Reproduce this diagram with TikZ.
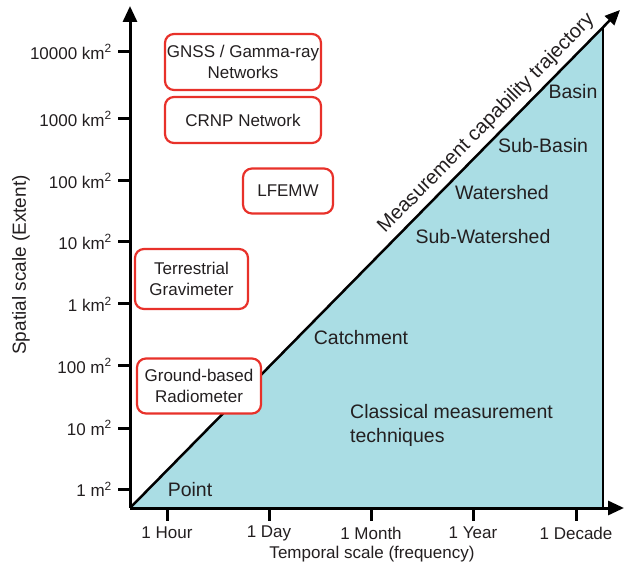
\documentclass[tikz,border=0pt]{standalone}
\usepackage{fontspec}
\setmainfont{Liberation Sans}
\usetikzlibrary{arrows.meta}
\definecolor{txt}{HTML}{231F20}
\definecolor{boxred}{HTML}{E8312A}
\definecolor{tri}{HTML}{AADDE4}
\begin{document}
\begin{tikzpicture}[x=1pt,y=-1pt,
  lbl/.style={font=\fontsize{17}{21.5}\selectfont, text=txt, inner sep=0pt},
  big/.style={lbl, font=\fontsize{19.5}{24}\selectfont},
  inst/.style={lbl, draw=boxred, line width=2.2pt, rounded corners=9pt, fill=white, align=center},
  axis/.style={line width=3pt, -{Triangle[length=16pt,width=14pt]}},
  tick/.style={line width=3pt},
]
\useasboundingbox (0,0) rectangle (625,567);
% key points
\coordinate (O) at (130,508);
\coordinate (Ytop) at (130,6);
\coordinate (Xend) at (624,508);
\coordinate (T) at (620,10);
\coordinate (R) at (603,27.3);
\coordinate (Rb) at (603,508);
% triangle
\fill[tri] (O) -- (R) -- (Rb) -- cycle;
\draw[line width=2.5pt] (R) -- (Rb);
% diagonal trajectory
\draw[line width=2.5pt, -{Triangle[length=15pt,width=13pt]}] (O) -- (T)
  node[pos=0.75, sloped, above=5pt, lbl, font=\fontsize{20}{24}\selectfont] (traj) {Measurement capability trajectory};
% axes
\draw[axis] (O) -- (Ytop);
\draw[axis] (O) -- (Xend);
% y ticks
\foreach \yy/\nm/\lab in {52/ya/10000 km\textsuperscript{2}, 119/yb/1000 km\textsuperscript{2}, 181/yc/100 km\textsuperscript{2}, 242/yd/10 km\textsuperscript{2}, 304/ye/1 km\textsuperscript{2}, 366/yf/100 m\textsuperscript{2}, 428/yg/10 m\textsuperscript{2}, 489/yh/1 m\textsuperscript{2}}{
  \coordinate (t\nm) at (118,\yy);
  \draw[tick] (t\nm) -- (130,\yy);
  \node[lbl, anchor=east] (\nm) at (112,\yy) {\lab};
}
% x ticks
\foreach \xx/\nm/\lab in {167/xa/1 Hour, 269/xb/1 Day, 371/xc/1 Month, 473/xd/1 Year, 576/xe/1 Decade}{
  \coordinate (t\nm) at (\xx,521);
  \draw[tick] (\xx,508) -- (t\nm);
  \node[lbl] (\nm) at (\xx,533) {\lab};
}
% axis titles
\node[lbl] (xtitle) at (372,554) {Temporal scale (frequency)};
\node[lbl, font=\fontsize{19}{22}\selectfont, rotate=90] (ytitle) at (21,265) {Spatial scale (Extent)};
% instrument boxes
\node[inst, minimum width=156pt, minimum height=56pt] (gnss) at (243,62) {GNSS / Gamma-ray\\Networks};
\node[inst, minimum width=156pt, minimum height=46pt] (crnp) at (243,120) {CRNP Network};
\node[inst, minimum width=90pt, minimum height=45pt] (lfemw) at (288,191) {LFEMW};
\node[inst, minimum width=113pt, minimum height=60pt] (grav) at (191.5,279) {Terrestrial\\Gravimeter};
\node[inst, minimum width=124pt, minimum height=55pt] (radio) at (199,386) {Ground-based\\Radiometer};
% scale labels in triangle
\node[big] (basin) at (573,92) {Basin};
\node[big] (subbasin) at (543,146) {Sub-Basin};
\node[big] (watershed) at (502,193) {Watershed};
\node[big] (subwatershed) at (483,237) {Sub-Watershed};
\node[big] (catch) at (361,338) {Catchment};
\node[big, align=left, anchor=west] (classic) at (350,425) {Classical measurement\\techniques};
\node[big] (point) at (190,490) {Point};
\end{tikzpicture}
\end{document}
